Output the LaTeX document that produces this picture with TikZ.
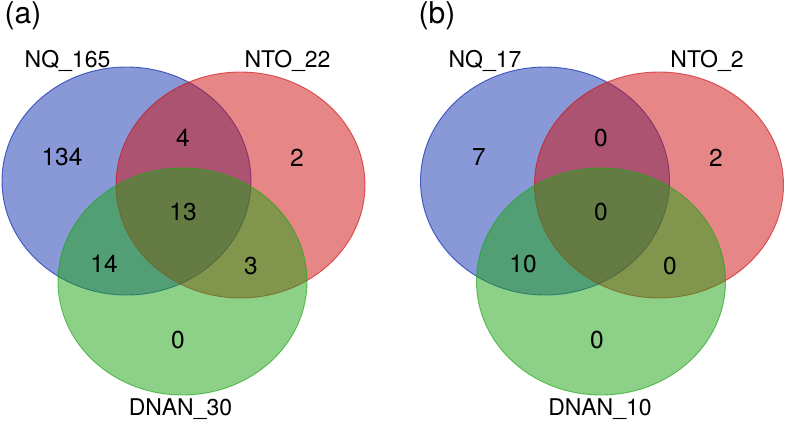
\documentclass[tikz,border=0pt]{standalone}
\usepackage{fontspec}
\setmainfont{TeX Gyre Heros}
\definecolor{vblue}{RGB}{21,51,177}
\definecolor{vred}{RGB}{209,15,15}
\definecolor{vgreen}{RGB}{29,165,21}
\begin{document}
\begin{tikzpicture}[x=1pt,y=-1pt,
  setblue/.style={fill=vblue,fill opacity=0.5,draw=vblue,draw opacity=0.75,line width=0.9pt},
  setred/.style={fill=vred,fill opacity=0.5,draw=vred,draw opacity=0.65,line width=0.9pt},
  setgreen/.style={fill=vgreen,fill opacity=0.5,draw=vgreen,draw opacity=0.65,line width=0.9pt},
  num/.style={anchor=base,inner sep=0pt,font=\fontsize{24.5}{28}\selectfont},
  setlabel/.style={anchor=base,inner sep=0pt,font=\fontsize{23}{26}\selectfont},
  panel/.style={inner sep=0pt,font=\fontsize{30}{34}\selectfont}]
\useasboundingbox (0,0) rectangle (787,423);
\fill[white] (0,0) rectangle (787,423);
% panel (a)
\path[setblue] (126.5,181) ellipse [x radius=124.5, y radius=114];
\path[setred] (240.5,185) ellipse [x radius=124.5, y radius=113];
\path[setgreen] (182.5,281.5) ellipse [x radius=124.5, y radius=113.5];
\node[panel] (pa) at (23,16) {(a)};
\node[setlabel] (la1) at (67.5,67) {NQ\_165};
\node[setlabel] (la2) at (287.5,67) {NTO\_22};
\node[setlabel] (la3) at (180.5,415) {DNAN\_30};
\node[num] (a1) at (62,165) {134};
\node[num] (a2) at (183,146) {4};
\node[num] (a3) at (297,166) {2};
\node[num] (a4) at (183,220) {13};
\node[num] (a5) at (104,272) {14};
\node[num] (a6) at (251,274) {3};
\node[num] (a7) at (178,348) {0};
% panel (b)
\path[setblue] (545,181) ellipse [x radius=124.5, y radius=114];
\path[setred] (659,185) ellipse [x radius=124.5, y radius=113];
\path[setgreen] (601,281.5) ellipse [x radius=124.5, y radius=113.5];
\node[panel] (pb) at (437,16) {(b)};
\node[setlabel] (lb1) at (485,67) {NQ\_17};
\node[setlabel] (lb2) at (707,67) {NTO\_2};
\node[setlabel] (lb3) at (600,415) {DNAN\_10};
\node[num] (b1) at (479,165) {7};
\node[num] (b2) at (601,146) {0};
\node[num] (b3) at (716,166) {2};
\node[num] (b4) at (601,220) {0};
\node[num] (b5) at (523,272) {10};
\node[num] (b6) at (670,274) {0};
\node[num] (b7) at (597,348) {0};
\end{tikzpicture}
\end{document}
